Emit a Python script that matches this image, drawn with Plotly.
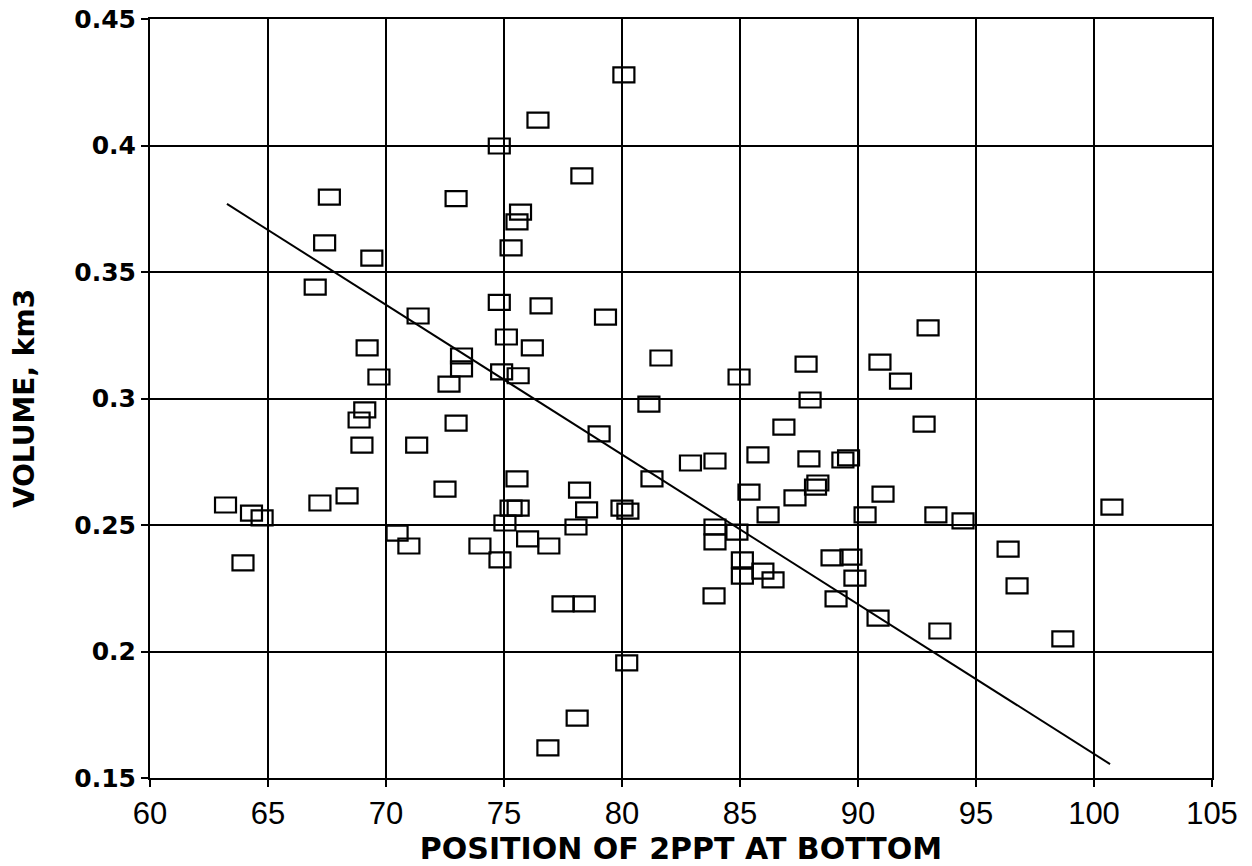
import plotly.graph_objects as go

# Position of the 2 ppt isohaline at the bottom vs. volume (km3)
position = [
    74.8, 67.6, 72.97, 75.7, 75.55, 67.4, 69.4, 75.3, 67.0, 74.8,
    71.36, 75.1, 69.2, 73.2, 73.2, 69.7, 72.67, 74.9, 75.6, 80.08,
    76.44, 78.3, 76.57, 79.3, 76.2, 81.65, 84.96, 87.8, 90.93, 92.97,
    91.8, 69.1, 68.86, 72.97, 68.98, 71.3, 75.55, 72.5, 68.35, 67.2,
    63.2, 64.3, 64.75, 75.3, 75.6, 75.04, 70.47, 70.97, 73.98, 74.83,
    63.94, 81.14, 87.97, 79.03, 86.86, 82.9, 83.94, 85.76, 87.92, 89.36,
    89.6, 81.27, 78.2, 88.3, 88.2, 85.38, 87.33, 86.19, 78.5, 80.0,
    80.25, 78.05, 76.0, 76.9, 83.94, 83.94, 84.87, 85.1, 85.1, 85.97,
    86.4, 88.9, 89.7, 89.87, 89.07, 90.85, 83.9, 77.5, 78.4, 80.2,
    78.1, 76.86, 92.8, 91.06, 93.3, 94.45, 90.3, 100.76, 96.36, 96.74,
    93.47, 98.68,
]
volume = [
    0.3998, 0.3796, 0.3790, 0.3737, 0.3698, 0.3615, 0.3555, 0.3595, 0.3440, 0.3380,
    0.3326, 0.3243, 0.3200, 0.3168, 0.3117, 0.3085, 0.3057, 0.3105, 0.3090, 0.4279,
    0.4100, 0.3880, 0.3366, 0.3322, 0.3200, 0.3160, 0.3085, 0.3136, 0.3144, 0.3279,
    0.3069, 0.2955, 0.2915, 0.2903, 0.2816, 0.2816, 0.2682, 0.2642, 0.2615, 0.2587,
    0.2579, 0.2547, 0.2528, 0.2567, 0.2567, 0.2508, 0.2468, 0.2417, 0.2417, 0.2362,
    0.2350, 0.2978, 0.2994, 0.2860, 0.2887, 0.2745, 0.2753, 0.2777, 0.2761, 0.2757,
    0.2765, 0.2682, 0.2638, 0.2666, 0.2650, 0.2630, 0.2607, 0.2540, 0.2560, 0.2567,
    0.2555, 0.2492, 0.2445, 0.2417, 0.2492, 0.2433, 0.2472, 0.2362, 0.2298, 0.2318,
    0.2283, 0.2370, 0.2373, 0.2290, 0.2208, 0.2132, 0.2220, 0.2188, 0.2188, 0.1955,
    0.1737, 0.1619, 0.2899, 0.2622, 0.2540, 0.2516, 0.2540, 0.2571, 0.2405, 0.2259,
    0.2081, 0.2050,
]

# Fitted trend line end points
trend_x = [63.26, 100.68]
trend_y = [0.3769, 0.1555]

x_ticks = [60, 65, 70, 75, 80, 85, 90, 95, 100, 105]
y_ticks = [0.15, 0.2, 0.25, 0.3, 0.35, 0.4, 0.45]
y_tick_text = ["0.15", "0.2", "0.25", "0.3", "0.35", "0.4", "0.45"]

fig = go.Figure()

fig.add_trace(go.Scatter(
    x=trend_x, y=trend_y, mode="lines",
    line=dict(color="black", width=2),
    showlegend=False, hoverinfo="skip",
))

# Invisible hover layer for the observations
fig.add_trace(go.Scatter(
    x=position, y=volume, mode="markers",
    marker=dict(size=18, color="rgba(0,0,0,0)"),
    showlegend=False,
))

# Open rectangular markers, anchored on each observation in data space
shapes = []
for px, vy in zip(position, volume):
    shapes.append(dict(
        type="rect", xref="x", yref="y",
        xsizemode="pixel", ysizemode="pixel",
        xanchor=px, yanchor=vy,
        x0=-10.5, x1=10.5, y0=-7.5, y1=7.5,
        line=dict(color="black", width=2.2),
        fillcolor="rgba(0,0,0,0)",
        layer="above",
    ))

axis_common = dict(
    showline=True, linecolor="black", linewidth=2, mirror=True,
    showgrid=True, gridcolor="black", gridwidth=2,
    ticks="outside", ticklen=7, tickcolor="black", tickwidth=2,
    zeroline=False, automargin=False,
)

fig.update_layout(
    width=1252, height=866,
    margin=dict(l=150, r=40, t=19, b=88),
    paper_bgcolor="white", plot_bgcolor="white",
    shapes=shapes,
    xaxis=dict(
        range=[60, 105], tickvals=x_ticks, ticktext=[str(v) for v in x_ticks],
        tickfont=dict(family="Liberation Sans, Arial", size=31, color="black"),
        title=dict(text="POSITION OF 2PPT AT BOTTOM",
                   font=dict(family="DejaVu Sans", size=30, color="black", weight="bold"),
                   standoff=2),
        **axis_common,
    ),
    yaxis=dict(
        range=[0.15, 0.45], tickvals=y_ticks, ticktext=y_tick_text,
        tickfont=dict(family="DejaVu Sans", size=25, color="black", weight="bold"),
        title=dict(text="VOLUME, km3",
                   font=dict(family="DejaVu Sans", size=28, color="black", weight="bold"),
                   standoff=32),
        **axis_common,
    ),
)

fig.write_html("out.html")
